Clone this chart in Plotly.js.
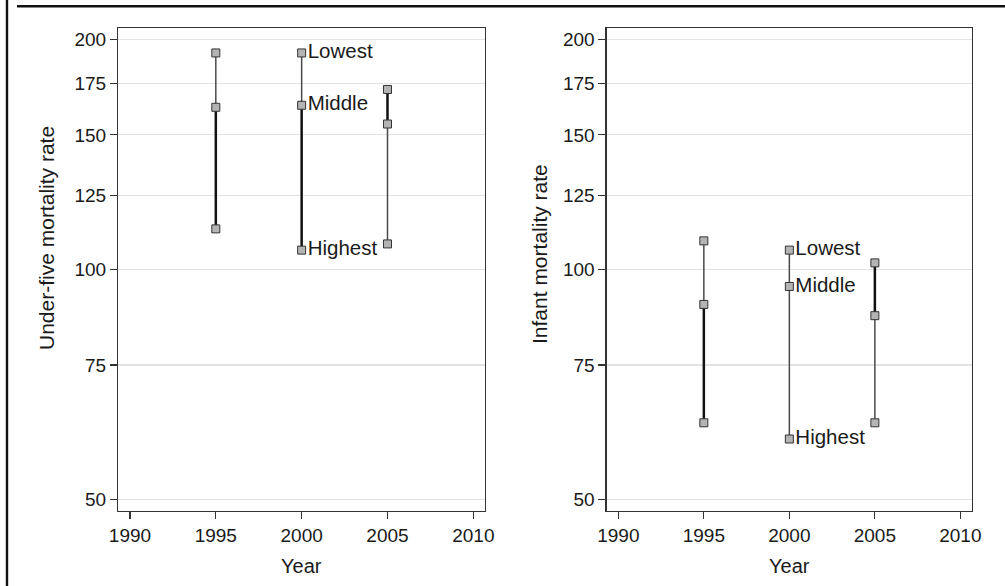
<!DOCTYPE html>
<html>
<head>
<meta charset="utf-8">
<script src="https://cdn.plot.ly/plotly-3.0.1.min.js"></script>
<style>
  html, body { margin: 0; padding: 0; background: #fff; }
  #chart { width: 1005px; height: 586px; }
</style>
</head>
<body>
<div id="chart"></div>
<script>
// ---- Data ----
const years = [1995, 2000, 2005];
const u5Lowest  = [192, 192, 172];
const u5Middle  = [163, 164, 155];
const u5Highest = [113, 106, 108];
const imrLowest  = [109, 106, 102];
const imrMiddle  = [90, 95, 87];
const imrHighest = [63, 60, 63];
const groupLabels = ['Lowest', 'Middle', 'Highest'];
const labelYear = 2000;
const yTickVals = [50, 75, 100, 125, 150, 175, 200];
const xTickVals = [1990, 1995, 2000, 2005, 2010];
const yAxisTitles = ['Under-five mortality rate', 'Infant mortality rate'];
const xAxisTitle = 'Year';

// ---- Styles ----
// which segment looks heavier in the reference (upper: lowest-middle, lower: middle-highest)
const heavyUpper = [[false, false, true], [false, false, true]];
const heavyLower = [[true, true, false], [true, false, false]];
const thin = {color: '#4a4a4a', width: 1.5};
const thick = {color: '#111111', width: 2.5};
const markerStyle = {symbol: 'square', size: 8, color: '#b4b4b4', line: {color: '#333333', width: 1}};
const FONT = 'Liberation Sans, Arial, sans-serif';

const panels = [
  {low: u5Lowest, mid: u5Middle, high: u5Highest, xa: 'x', ya: 'y'},
  {low: imrLowest, mid: imrMiddle, high: imrHighest, xa: 'x2', ya: 'y2'}
];

const traces = [];
panels.forEach((p, pi) => {
  years.forEach((yr, i) => {
    traces.push({
      type: 'scatter', mode: 'lines', x: [yr, yr], y: [p.low[i], p.mid[i]],
      xaxis: p.xa, yaxis: p.ya, line: heavyUpper[pi][i] ? thick : thin,
      hoverinfo: 'skip', showlegend: false
    });
    traces.push({
      type: 'scatter', mode: 'lines', x: [yr, yr], y: [p.mid[i], p.high[i]],
      xaxis: p.xa, yaxis: p.ya, line: heavyLower[pi][i] ? thick : thin,
      hoverinfo: 'skip', showlegend: false
    });
  });
  [p.low, p.mid, p.high].forEach((arr, gi) => {
    traces.push({
      type: 'scatter', mode: 'markers+text', x: years, y: arr,
      text: years.map(yr => yr === labelYear ? groupLabels[gi] : ''),
      textposition: 'middle right',
      textfont: {family: FONT, size: 20.5, color: '#1a1a1a'},
      xaxis: p.xa, yaxis: p.ya, marker: markerStyle,
      name: groupLabels[gi], showlegend: false, cliponaxis: false
    });
  });
});

const yRange = [Math.log10(48.3), Math.log10(206.8)];
const xRange = [1989.32, 2010.68];

function xAxis(domain, anchor) {
  return {
    domain: domain, anchor: anchor, range: xRange, tickvals: xTickVals,
    ticks: 'outside', ticklen: 7, tickwidth: 1.2, tickcolor: '#333',
    showline: true, linecolor: '#333', linewidth: 1.3, mirror: true,
    showgrid: false, zeroline: false,
    tickfont: {family: FONT, size: 19, color: '#1a1a1a'}
  };
}
function yAxis(domain, anchor) {
  return {
    domain: domain, anchor: anchor, type: 'log', range: yRange, tickvals: yTickVals,
    ticktext: yTickVals.map(String),
    ticks: 'outside', ticklen: 7, tickwidth: 1.2, tickcolor: '#333',
    showline: true, linecolor: '#333', linewidth: 1.3, mirror: true,
    showgrid: true, gridcolor: '#e3e3e3', gridwidth: 1.2, zeroline: false,
    tickfont: {family: FONT, size: 19, color: '#1a1a1a'}
  };
}

const W = 1005, H = 586;
const yDom = [1 - 511 / H, 1 - 28.3 / H];

const layout = {
  width: W, height: H,
  margin: {l: 0, r: 0, t: 0, b: 0},
  paper_bgcolor: '#ffffff', plot_bgcolor: '#ffffff',
  showlegend: false,
  xaxis: xAxis([118.3 / W, 485 / W], 'y'),
  yaxis: yAxis(yDom, 'x'),
  xaxis2: xAxis([606.7 / W, 972 / W], 'y2'),
  yaxis2: yAxis(yDom, 'x2'),
  annotations: [
    {text: yAxisTitles[0], xref: 'paper', yref: 'paper', x: 46 / W, y: 1 - 238 / H,
     textangle: -90, showarrow: false, xanchor: 'center', yanchor: 'middle',
     font: {family: FONT, size: 21, color: '#1a1a1a'}},
    {text: yAxisTitles[1], xref: 'paper', yref: 'paper', x: 539 / W, y: 1 - 254 / H,
     textangle: -90, showarrow: false, xanchor: 'center', yanchor: 'middle',
     font: {family: FONT, size: 21, color: '#1a1a1a'}},
    {text: xAxisTitle, xref: 'paper', yref: 'paper', x: 301.7 / W, y: 1 - 566 / H,
     showarrow: false, xanchor: 'center', yanchor: 'middle',
     font: {family: FONT, size: 20, color: '#1a1a1a'}},
    {text: xAxisTitle, xref: 'paper', yref: 'paper', x: 789.3 / W, y: 1 - 566 / H,
     showarrow: false, xanchor: 'center', yanchor: 'middle',
     font: {family: FONT, size: 20, color: '#1a1a1a'}}
  ],
  shapes: [
    {type: 'line', xref: 'paper', yref: 'paper', x0: 7 / W, x1: 7 / W, y0: 0, y1: 1,
     line: {color: '#111', width: 2.4}},
    {type: 'line', xref: 'paper', yref: 'paper', x0: 17 / W, x1: 1, y0: 1 - 6.2 / H, y1: 1 - 6.2 / H,
     line: {color: '#111', width: 2.4}}
  ]
};

Plotly.newPlot('chart', traces, layout, {staticPlot: true, displayModeBar: false});
</script>
</body>
</html>
